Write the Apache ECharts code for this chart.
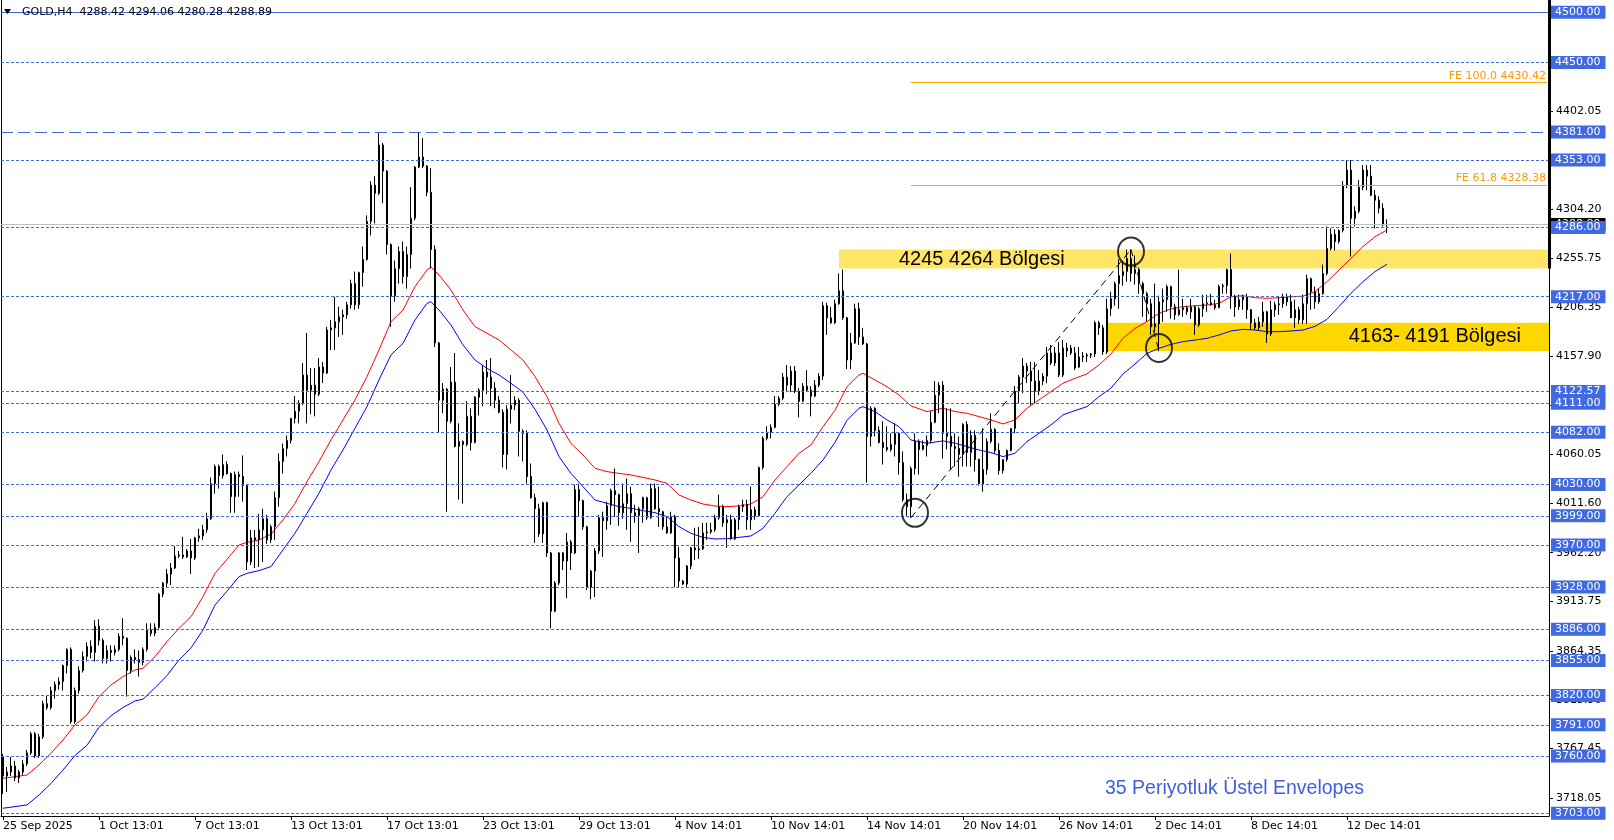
<!DOCTYPE html>
<html><head><meta charset="utf-8">
<script src="https://cdn.jsdelivr.net/npm/echarts@6/dist/echarts.min.js"></script>
<style>html,body{margin:0;padding:0;background:#fff;}#c{width:1614px;height:840px;}</style>
</head><body><div id="c"></div>
<script>
// ---------- DATA ----------
const tickLabels = ["25 Sep 2025","1 Oct 13:01","7 Oct 13:01","13 Oct 13:01","17 Oct 13:01","23 Oct 13:01","29 Oct 13:01","4 Nov 14:01","10 Nov 14:01","14 Nov 14:01","20 Nov 14:01","26 Nov 14:01","2 Dec 14:01","8 Dec 14:01","12 Dec 14:01"];
const barsPerLabel = 24;
const slotCount = 387;

// [open, high, low, close] per H4 bar
const ohlc = [
[3759,3762,3722,3740],[3740,3749,3724,3744],[3744,3759,3740,3750],[3750,3755,3735,3738],[3738,3746,3733,3744],
[3744,3756,3741,3752],[3752,3766,3750,3763],[3763,3784,3761,3782],[3782,3784,3758,3760],[3760,3782,3758,3779],
[3779,3815,3777,3812],[3812,3820,3806,3808],[3808,3829,3806,3825],[3825,3834,3817,3831],[3831,3838,3826,3834],
[3834,3851,3825,3850],[3850,3867,3842,3866],[3866,3868,3792,3794],[3794,3828,3792,3825],[3825,3849,3822,3845],
[3845,3864,3843,3859],[3859,3873,3854,3869],[3869,3875,3857,3863],[3863,3895,3854,3889],[3889,3896,3870,3875],
[3875,3877,3852,3857],[3857,3870,3852,3865],[3865,3870,3854,3863],[3863,3870,3860,3866],[3866,3882,3864,3879],
[3879,3897,3870,3877],[3877,3878,3819,3845],[3845,3860,3842,3858],[3858,3866,3852,3856],[3856,3865,3839,3853],
[3853,3868,3850,3866],[3866,3892,3864,3885],[3885,3892,3879,3882],[3882,3892,3879,3888],[3888,3922,3885,3921],
[3921,3933,3918,3932],[3932,3946,3927,3941],[3941,3952,3930,3947],[3947,3969,3946,3959],[3959,3964,3957,3960],
[3960,3978,3956,3958],[3958,3966,3957,3964],[3964,3976,3941,3957],[3957,3978,3955,3977],[3977,3986,3973,3979],
[3979,3990,3975,3985],[3985,4002,3982,3996],[3996,4037,3995,4031],[4031,4050,4021,4048],[4048,4050,4026,4039],
[4039,4060,4036,4050],[4050,4053,4040,4041],[4041,4042,4002,4018],[4018,4043,4002,4040],[4040,4043,4018,4038],
[4038,4059,4013,4029],[4029,4030,3945,3953],[3953,3985,3950,3977],[3977,3985,3947,3975],[3975,4001,3948,3985],
[3985,4006,3953,3996],[3996,4000,3971,3975],[3975,3990,3972,3988],[3988,4023,3975,4017],[4017,4061,4008,4053],
[4053,4071,4041,4066],[4066,4079,4058,4074],[4074,4096,4071,4096],[4096,4118,4091,4103],[4103,4114,4091,4111],
[4111,4151,4109,4139],[4139,4181,4091,4124],[4124,4146,4100,4129],[4129,4146,4098,4120],[4120,4156,4118,4147],
[4147,4152,4131,4141],[4141,4187,4140,4184],[4184,4194,4164,4186],[4186,4217,4164,4192],[4192,4207,4177,4197],
[4197,4204,4179,4199],[4199,4212,4195,4209],[4209,4234,4205,4230],[4230,4242,4204,4209],[4209,4242,4205,4241],
[4241,4267,4227,4254],[4254,4298,4253,4292],[4292,4332,4278,4328],[4328,4337,4290,4320],[4320,4380,4318,4368],
[4368,4370,4310,4342],[4342,4343,4259,4269],[4269,4270,4187,4218],[4218,4253,4212,4245],[4245,4267,4230,4262],
[4262,4272,4230,4237],[4237,4267,4225,4259],[4259,4326,4245,4295],[4295,4347,4293,4346],[4346,4381,4345,4356],
[4356,4375,4345,4347],[4347,4348,4317,4321],[4321,4345,4245,4264],[4264,4268,4167,4171],[4171,4172,4082,4114],
[4114,4131,4101,4125],[4125,4126,4003,4093],[4093,4147,4091,4132],[4132,4161,4067,4068],[4068,4091,4015,4073],
[4073,4074,4011,4070],[4070,4113,4068,4098],[4098,4106,4064,4072],[4072,4118,4071,4117],[4117,4126,4099,4124],
[4124,4149,4108,4142],[4142,4154,4120,4137],[4137,4156,4108,4126],[4126,4132,4106,4114],[4114,4118,4101,4102],
[4102,4105,4047,4060],[4060,4109,4045,4105],[4105,4139,4091,4109],[4109,4118,4104,4114],[4114,4116,4058,4083],
[4083,4085,4053,4081],[4081,4084,4031,4038],[4038,4051,4016,4017],[4017,4021,3972,4006],[4006,4011,3978,3981],
[3981,4013,3972,4012],[4012,4013,3958,3962],[3962,3963,3887,3904],[3904,3934,3903,3932],[3932,3963,3930,3962],
[3962,3963,3945,3954],[3954,3982,3917,3973],[3973,3975,3945,3962],[3962,4030,3961,4025],[4025,4031,3998,4014],
[4014,4015,3985,3988],[3988,3989,3925,3928],[3928,3945,3916,3944],[3944,3967,3918,3964],[3964,4000,3961,3997],
[3997,4003,3958,3994],[3994,4013,3985,4009],[4009,4026,3990,4024],[4024,4046,3998,4020],[4020,4021,3989,4002],
[4002,4031,3996,4011],[4011,4036,3985,4021],[4021,4028,3973,4002],[4002,4010,3992,3999],[3999,4008,3962,4006],
[4006,4018,3992,4017],[4017,4018,3995,3997],[3997,4031,3996,4026],[4026,4031,4005,4006],[4006,4028,3988,4003],
[4003,4004,3985,3988],[3988,3998,3981,3982],[3982,4003,3981,3998],[3998,4000,3928,3957],[3957,3968,3928,3934],
[3934,3935,3930,3931],[3931,3950,3928,3949],[3949,3968,3946,3967],[3967,3987,3955,3965],[3965,3988,3956,3966],
[3966,3992,3965,3982],[3982,3992,3975,3983],[3983,3992,3981,3985],[3985,4000,3983,3997],[3997,4020,3995,4008],
[4008,4010,3988,3992],[3992,4000,3967,3995],[3995,4000,3975,3976],[3976,3997,3975,3995],[3995,4010,3985,4008],
[4008,4015,4003,4010],[4010,4015,3985,3995],[3995,4028,3985,4005],[4005,4008,3995,3999],[3999,4048,3998,4047],
[4047,4078,4045,4076],[4076,4088,4074,4082],[4082,4090,4076,4087],[4087,4118,4086,4110],[4110,4118,4108,4116],
[4116,4141,4114,4137],[4137,4149,4122,4129],[4129,4148,4122,4143],[4143,4148,4121,4123],[4123,4126,4097,4113],
[4113,4131,4112,4128],[4128,4144,4122,4124],[4124,4128,4098,4118],[4118,4134,4117,4129],[4129,4141,4127,4138],
[4138,4212,4134,4208],[4208,4211,4179,4196],[4196,4207,4190,4191],[4191,4214,4190,4210],[4210,4240,4209,4223],
[4223,4244,4194,4196],[4196,4197,4145,4154],[4154,4181,4145,4171],[4171,4210,4170,4205],[4205,4211,4169,4177],
[4177,4186,4169,4170],[4170,4171,4032,4078],[4078,4108,4068,4106],[4106,4107,4078,4084],[4084,4088,4071,4072],
[4072,4093,4050,4067],[4067,4088,4063,4065],[4065,4081,4063,4070],[4070,4091,4058,4081],[4081,4082,4040,4052],
[4052,4063,4013,4015],[4015,4021,3999,4008],[4008,4048,3997,4046],[4046,4081,4040,4073],[4073,4075,4040,4065],
[4065,4074,4064,4069],[4069,4079,4058,4074],[4074,4103,4071,4092],[4092,4133,4091,4119],[4119,4132,4101,4129],
[4129,4133,4056,4081],[4081,4106,4065,4078],[4078,4106,4045,4068],[4068,4081,4048,4066],[4066,4078,4038,4060],
[4060,4091,4048,4090],[4090,4093,4048,4062],[4062,4084,4048,4079],[4079,4084,4043,4055],[4055,4056,4029,4031],
[4031,4086,4023,4045],[4045,4076,4040,4073],[4073,4101,4071,4085],[4085,4086,4061,4064],[4064,4071,4040,4044],
[4044,4055,4041,4055],[4055,4065,4053,4064],[4064,4086,4063,4086],[4086,4128,4081,4123],[4123,4139,4111,4137],
[4137,4156,4121,4148],[4148,4151,4131,4143],[4143,4152,4109,4133],[4133,4152,4111,4123],[4123,4144,4119,4133],
[4133,4141,4129,4138],[4138,4167,4131,4161],[4161,4169,4149,4151],[4151,4167,4148,4161],[4161,4172,4137,4139],
[4139,4174,4137,4166],[4163,4171,4157,4166],[4166,4169,4159,4161],[4161,4167,4144,4146],[4147,4167,4146,4157],
[4157,4162,4152,4158],[4158,4161,4152,4159],[4159,4161,4156,4160],[4160,4193,4157,4191],[4191,4193,4179,4186],
[4186,4189,4159,4162],[4162,4215,4160,4205],[4205,4222,4198,4215],[4215,4232,4208,4230],[4230,4254,4205,4238],
[4238,4253,4228,4242],[4242,4264,4232,4255],[4255,4264,4232,4240],[4240,4258,4229,4244],[4244,4246,4220,4230],
[4230,4232,4197,4220],[4220,4222,4192,4210],[4210,4215,4179,4187],[4187,4230,4182,4190],[4190,4218,4163,4212],
[4212,4225,4192,4214],[4214,4229,4202,4227],[4227,4228,4195,4207],[4207,4210,4194,4199],[4199,4244,4198,4204],
[4204,4215,4197,4206],[4206,4208,4199,4202],[4202,4215,4195,4207],[4207,4208,4179,4189],[4189,4207,4187,4205],
[4205,4219,4197,4210],[4210,4219,4202,4211],[4211,4220,4208,4209],[4209,4214,4204,4206],[4206,4229,4206,4227],
[4227,4230,4220,4228],[4228,4245,4220,4244],[4244,4260,4205,4217],[4217,4219,4197,4207],[4207,4219,4204,4214],
[4214,4219,4204,4217],[4217,4220,4195,4204],[4204,4205,4184,4191],[4191,4195,4184,4186],[4186,4197,4184,4192],
[4192,4212,4187,4202],[4202,4203,4171,4180],[4180,4213,4178,4204],[4204,4212,4197,4209],[4209,4217,4199,4210],
[4210,4220,4206,4217],[4217,4220,4208,4212],[4212,4219,4196,4196],[4196,4214,4186,4204],[4204,4207,4190,4194],
[4194,4219,4190,4210],[4210,4239,4190,4235],[4235,4236,4204,4222],[4222,4227,4205,4212],[4212,4225,4210,4220],
[4220,4249,4219,4240],[4240,4287,4238,4265],[4265,4285,4263,4279],[4279,4284,4263,4272],[4272,4284,4270,4283],
[4283,4332,4281,4328],[4328,4353,4325,4343],[4343,4353,4257,4295],[4295,4307,4287,4302],[4302,4333,4300,4326],
[4326,4348,4323,4343],[4343,4348,4323,4337],[4337,4348,4317,4318],[4318,4323,4285,4313],[4313,4317,4300,4305],
[4305,4310,4287,4288.42],[4288.42,4294.06,4280.28,4288.89]
];

// 35-period exponential envelopes at these bars
const envIdx = [0,6,9,12,15,18,21,24,27,30,33,35,38,41,44,47,50,53,56,59,61,64,67,70,73,76,79,82,85,88,91,94,97,100,103,106,107,109,112,115,118,121,124,127,130,133,136,139,142,145,148,151,154,157,160,163,166,169,172,175,178,181,184,187,190,193,196,199,202,205,208,211,214,215,218,221,224,227,231,235,238,241,244,247,250,253,256,259,262,265,268,271,274,277,280,283,286,289,292,295,298,301,304,307,310,313,316,319,322,325,328,331,334,337,340,343,346];
const envUpper = [3737.7,3741,3751,3762.6,3775.9,3790.8,3800.8,3819,3830.6,3838.9,3845.5,3847.2,3858.8,3873.7,3887,3898.6,3918.5,3941.7,3955.6,3969.9,3972.6,3974.9,3980.7,3994.9,4011.4,4033,4052.9,4074.5,4094.4,4114.3,4137.5,4164,4192.2,4203.8,4227,4243.6,4246.5,4238.6,4223.7,4203.8,4187.2,4180.6,4174,4164,4154,4137.5,4117.6,4091,4071,4059.5,4046.2,4042.9,4041.2,4039.6,4037.2,4034.6,4031.3,4019.7,4014.7,4010.7,4008.7,4008.1,4008.7,4010.7,4018,4034.6,4047.9,4061.2,4069.5,4087.7,4104,4127.5,4139.1,4140.8,4134.1,4127.5,4119.2,4108.3,4102.7,4106,4102.7,4101,4097.7,4094.4,4090.4,4094.4,4106,4114.3,4122.6,4130.9,4135.8,4140.2,4149.1,4160,4175.6,4185.5,4192.2,4200.5,4204.8,4207.1,4208.1,4208.7,4210.4,4217,4218,4216,4215.4,4216,4217,4217.5,4222,4232,4243.6,4255.2,4266.9,4276.8,4283.4];
const envLower = [3707.9,3711.2,3721,3732.6,3745.9,3760.5,3770.5,3788.5,3800,3808.2,3814.7,3816.4,3827.8,3840,3855.5,3867.5,3885.3,3910.2,3924,3938.4,3941.7,3944.4,3948.4,3965,3981.6,4001.5,4021.4,4044.6,4064.5,4086.1,4107.6,4134.2,4159.1,4170.6,4193.9,4210.4,4212.1,4203.8,4188.9,4169,4154,4145.7,4139.1,4130.8,4122,4105,4084.4,4057.9,4041.2,4028,4014.7,4011.4,4008.1,4006.4,4004.1,4002.1,3998.1,3988.2,3981.5,3977.5,3975.9,3976.2,3977.5,3978.9,3986.5,4001.5,4018,4029.7,4041.3,4054.6,4072,4094,4106,4107.6,4102.6,4094.4,4087.7,4074.4,4071.2,4073.5,4071.2,4067.9,4064.5,4061.9,4057.9,4061.2,4072.8,4081.1,4089.4,4099.4,4103.7,4107.6,4117.6,4126,4140,4150,4160.6,4165.6,4169.6,4172.3,4173.9,4175.6,4178.9,4182.9,4184.5,4183.9,4182.2,4182.2,4182.9,4183.8,4187.5,4194.5,4207.2,4220.4,4232,4242,4249.3];

const levelValues = [4500, 4450, 4381, 4353, 4286, 4217, 4122.57, 4111, 4082, 4030, 3999, 3970, 3928, 3886, 3855, 3820, 3791, 3760, 3703];
const solidLevel = 4500, longDashLevel = 4381;
const yTickValues = [4499.95, 4450.50, 4402.05, 4353.60, 4304.20, 4255.75, 4206.35, 4157.90, 4109.45, 4060.05, 4011.60, 3962.20, 3913.75, 3864.35, 3815.90, 3767.45, 3718.05];
const lastPrice = 4288.89;
const headerText = "GOLD,H4  4288.42 4294.06 4280.28 4288.89";

const feNames = ["FE 100.0", "FE 61.8"];
const feValues = [4430.42, 4328.38];
const feStartBar = 227;

const zoneLow = [4245, 4163];
const zoneHigh = [4264, 4191];
const zoneStartBar = [209, 276];
const zoneText = ["4245 4264 Bölgesi", "4163- 4191 Bölgesi"];

const fiboBars = [227, 282, 289];
const fiboPrices = [3997, 4264, 4163.3];
const circleBars = [228, 282, 289];
const circlePrices = [4002, 4262, 4166];
const noteText = "35 Periyotluk Üstel Envelopes";
const axisMarkTop = 4512.3, axisMarkBottom = 4245;

// ---------- BUILD ----------
const cats = Array.from({length: slotCount}, (_, i) => String(i));
const candleData = ohlc.map(r => [r[0], r[3], r[2], r[1]]);
const upper = new Array(slotCount).fill(null);
const lower = new Array(slotCount).fill(null);
envIdx.forEach((b, k) => { upper[b] = envUpper[k]; lower[b] = envLower[k]; });
const lastSlot = slotCount - 1;
const FONT = 'DejaVu Sans';
const isTick = i => i % barsPerLabel === 0 && i / barsPerLabel < tickLabels.length;
const GRID = {left: 0, right: 65, top: 0, bottom: 24};

const chart = echarts.init(document.getElementById('c'), null, {renderer: 'canvas'});
const option = {
  animation: false,
  backgroundColor: '#fff',
  grid: Object.assign({show: false}, GRID),
  xAxis: {
    type: 'category', data: cats, boundaryGap: true,
    axisLine: {show: true, lineStyle: {color: '#000', width: 1}},
    axisTick: {show: true, alignWithLabel: true, interval: isTick, length: 4, lineStyle: {color: '#000'}},
    axisLabel: {interval: isTick, formatter: (v, i) => tickLabels[i / barsPerLabel] || '', align: 'left',
      color: '#000', fontFamily: FONT, fontSize: 11, margin: 5},
    splitLine: {show: false}
  },
  yAxis: [{
    type: 'value', position: 'right', min: 3700.2, max: 4512.3,
    splitLine: {show: false},
    axisLine: {show: true, lineStyle: {color: '#000', width: 1}},
    axisTick: {show: true, customValues: yTickValues, length: 4, lineStyle: {color: '#000'}},
    axisLabel: {customValues: yTickValues, formatter: v => Number(v).toFixed(2), color: '#000',
      fontFamily: FONT, fontSize: 11, margin: 7}
  }, {
    type: 'value', position: 'left', min: 3700.2, max: 4512.3,
    splitLine: {show: false}, axisLabel: {show: false}, axisTick: {show: false},
    axisLine: {show: true, lineStyle: {color: '#000', width: 1}}
  }],
  series: [
    { // yellow zones + current price line
      type: 'line', data: [], z: 1, silent: true,
      markArea: {
        silent: true,
        data: zoneLow.map((lo, k) => [
          {xAxis: zoneStartBar[k], yAxis: lo,
           itemStyle: {color: k === 0 ? '#FFE566' : '#FFD700'},
           label: {show: true, formatter: zoneText[k], position: k === 0 ? 'insideLeft' : 'insideRight',
             distance: k === 0 ? 60 : 28, color: '#000', fontFamily: 'Liberation Sans', fontSize: 20}},
          {yAxis: zoneHigh[k]}
        ])
      },
      markLine: {
        silent: true, symbol: ['none', 'none'], animation: false,
        data: [{yAxis: lastPrice, lineStyle: {color: '#C0C0C0', type: 'solid', width: 1},
          label: {show: true, position: 'end', distance: 2, formatter: p => Number(p.value).toFixed(2),
            color: '#fff', backgroundColor: '#000', padding: [1, 5, 0, 4], fontFamily: FONT, fontSize: 11, lineHeight: 12}}]
      }
    },
    { // horizontal levels
      type: 'line', data: [], z: 2, silent: true,
      markLine: {
        silent: true, symbol: ['none', 'none'], animation: false,
        data: levelValues.map(v => ({
          yAxis: v,
          lineStyle: {color: '#4169E1', width: 1,
            type: v === solidLevel ? 'solid' : (v === longDashLevel ? [12, 5] : [3, 2])},
          label: {show: true, position: 'end', distance: 2, formatter: p => Number(p.value).toFixed(2),
            color: '#fff', backgroundColor: '#4169E1', padding: [1, 5, 0, 4], fontFamily: FONT, fontSize: 11, lineHeight: 12}
        }))
      }
    },
    { // FE levels
      type: 'line', data: [], z: 2, silent: true,
      markLine: {
        silent: true, symbol: ['none', 'none'], animation: false,
        data: feValues.map((v, k) => [
          {coord: [feStartBar, v], lineStyle: {color: '#FFA500', width: 1, type: 'solid'},
           label: {show: true, position: 'insideEndTop', distance: 1, formatter: feNames[k] + ' ' + v.toFixed(2),
             color: '#FF9900', fontFamily: FONT, fontSize: 11}},
          {coord: [lastSlot, v]}
        ])
      }
    },
    {type: 'line', name: 'upper', data: upper, connectNulls: true, showSymbol: false, symbol: 'none',
     lineStyle: {color: '#FF0000', width: 1}, z: 3, silent: true},
    {type: 'line', name: 'lower', data: lower, connectNulls: true, showSymbol: false, symbol: 'none',
     lineStyle: {color: '#0000FF', width: 1}, z: 3, silent: true},
    {
      type: 'candlestick', data: candleData, barWidth: 2, z: 4, silent: true,
      itemStyle: {color: '#FFFFFF', color0: '#000000', borderColor: '#000000', borderColor0: '#000000', borderWidth: 1}
    },
    { // fibo expansion trend line + circles
      type: 'scatter', z: 5, silent: true,
      data: circleBars.map((b, k) => [b, circlePrices[k]]),
      symbol: 'circle', symbolSize: [26, 28],
      itemStyle: {color: 'rgba(0,0,0,0)', borderColor: '#000', borderWidth: 2},
      markLine: {
        silent: true, symbol: ['none', 'none'], animation: false,
        lineStyle: {color: '#000', width: 1, type: [7, 5]}, label: {show: false},
        data: [
          [{coord: [fiboBars[0], fiboPrices[0]]}, {coord: [fiboBars[1], fiboPrices[1]]}],
          [{coord: [fiboBars[1], fiboPrices[1]]}, {coord: [fiboBars[2], fiboPrices[2]]}]
        ]
      }
    }
  ],
  graphic: [
    {type: 'polygon', shape: {points: [[4, 9], [11, 9], [7.5, 14]]}, style: {fill: '#000'}, z: 100},
    {type: 'text', x: 22, y: 12, style: {text: headerText, fill: '#000', font: '11px "DejaVu Sans"', verticalAlign: 'middle'}, z: 100},
    {type: 'text', x: 1105, y: 789, style: {text: noteText, fill: '#3D5FD9', font: '19.5px "Liberation Sans"', verticalAlign: 'middle'}, z: 100}
  ]
};
chart.setOption(option);

// thick marker on the price axis (from the top down to the upper zone), placed via the axis scale
const yTop = chart.convertToPixel({yAxisIndex: 0}, axisMarkTop);
const yBot = chart.convertToPixel({yAxisIndex: 0}, axisMarkBottom);
const axisX = 1614 - GRID.right;
chart.setOption({graphic: option.graphic.concat([
  {type: 'rect', shape: {x: axisX - 1, y: yTop, width: 3, height: yBot - yTop}, style: {fill: '#000'}, z: 100}
])});
</script>
</body></html>
